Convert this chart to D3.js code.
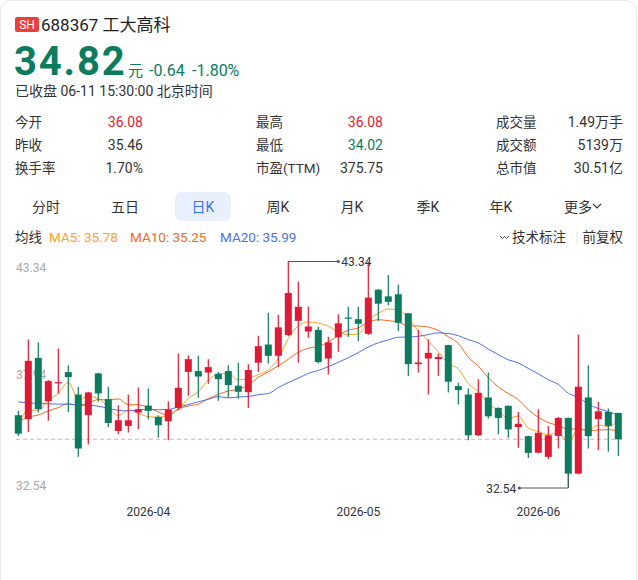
<!DOCTYPE html>
<html>
<head>
<meta charset="utf-8">
<script src="https://cdn.jsdelivr.net/npm/d3@7"></script>
<style>
  body { margin: 0; background: #fff; }
  svg { display: block; font-family: Roboto, "Noto Sans CJK SC", sans-serif; }
</style>
</head>
<body>
<script>
// daily candles 2026-03-13 .. 2026-06-11
var dates = [
  "2026-03-13","2026-03-16","2026-03-17","2026-03-18","2026-03-19","2026-03-20","2026-03-23","2026-03-24","2026-03-25","2026-03-26",
  "2026-03-27","2026-03-30","2026-03-31","2026-04-01","2026-04-02","2026-04-03","2026-04-07","2026-04-08","2026-04-09","2026-04-10",
  "2026-04-13","2026-04-14","2026-04-15","2026-04-16","2026-04-17","2026-04-20","2026-04-21","2026-04-22","2026-04-23","2026-04-24",
  "2026-04-27","2026-04-28","2026-04-29","2026-04-30","2026-05-06","2026-05-07","2026-05-08","2026-05-11","2026-05-12","2026-05-13",
  "2026-05-14","2026-05-15","2026-05-18","2026-05-19","2026-05-20","2026-05-21","2026-05-22","2026-05-25","2026-05-26","2026-05-27",
  "2026-05-28","2026-05-29","2026-06-01","2026-06-02","2026-06-03","2026-06-04","2026-06-05","2026-06-08","2026-06-09","2026-06-10",
  "2026-06-11"];
var opens = [35.97,35.78,38.71,36.64,37.49,38.03,36.96,35.97,37.97,36.74,
  35.22,35.46,36.10,36.43,35.89,35.68,36.32,38.04,38.08,38.01,
  37.95,38.08,37.38,37.07,38.48,39.35,38.81,39.80,40.48,39.97,
  40.05,38.68,39.69,40.64,40.56,39.86,41.97,41.65,41.75,40.84,
  38.41,38.68,38.65,39.32,37.36,36.96,35.01,36.82,36.32,36.42,
  35.40,34.97,34.18,33.98,34.98,35.84,33.18,36.82,35.78,36.13,
  36.08];
var highs = [36.18,39.59,39.45,37.65,39.16,38.36,37.33,37.09,38.00,37.33,
  36.45,36.96,37.30,37.25,35.97,36.64,38.92,38.84,38.81,38.65,
  38.04,38.36,38.48,38.40,39.77,40.87,40.76,43.34,42.35,41.15,
  40.20,39.72,40.79,41.15,41.15,43.30,42.00,42.67,42.22,40.86,
  40.04,39.59,38.92,39.34,37.52,37.25,37.69,38.01,36.34,36.44,
  36.13,34.99,36.26,35.46,35.89,35.86,39.83,38.36,36.61,36.29,
  36.08];
var lows = [34.98,35.17,36.10,35.70,37.01,36.13,33.98,34.57,36.61,35.41,
  35.06,35.14,35.30,35.78,34.89,34.77,36.21,36.90,36.80,37.47,
  36.66,36.80,36.77,36.32,38.04,38.44,38.28,39.75,38.48,39.67,
  38.44,37.92,39.00,39.72,39.51,39.80,40.48,41.23,39.99,37.85,
  38.01,36.96,37.85,37.06,36.48,34.77,34.98,35.81,35.06,34.89,
  34.41,33.93,34.15,33.87,34.38,32.54,33.15,34.38,34.30,34.22,
  34.02];
var closes = [35.09,38.57,36.26,37.60,37.55,37.79,34.38,37.06,37.01,35.60,
  35.73,35.73,36.26,36.18,35.49,36.24,37.28,38.65,37.82,38.27,
  37.69,37.41,37.09,38.13,39.27,38.81,40.17,41.81,41.15,40.21,
  38.51,39.45,40.36,40.60,40.34,41.59,41.30,41.39,40.39,38.41,
  38.49,38.95,38.75,37.57,37.17,35.01,37.04,35.92,35.84,35.29,
  35.56,34.17,35.13,35.01,35.84,33.18,37.33,34.97,36.16,35.46,
  34.82];
// closes of the 19 sessions before the window (estimated, only feed the moving averages)
var prevCloses = [39.57,36.86,37.80,37.95,37.79,35.38,37.06,38.01,37.60,37.73,
  36.20,35.30,35.60,36.00,35.90,34.97,36.26,35.20,35.93];

var maPeriods = [5, 10, 20];
var maColors = ["#f4a52a", "#f06a22", "#4f6fde"];
var maLabels = ["MA5: 35.78", "MA10: 35.25", "MA20: 35.99"];

var yTicks = [43.34, 37.94, 32.54];
var monthTicks = ["2026-04-01", "2026-05-06", "2026-06-01"];
var monthLabels = ["2026-04", "2026-05", "2026-06"];

var statLabels = [["今开", "昨收", "换手率"], ["最高", "最低", "市盈(TTM)"], ["成交量", "成交额", "总市值"]];
var statValues = [["36.08", "35.46", "1.70%"], ["36.08", "34.02", "375.75"], ["1.49万手", "5139万", "30.51亿"]];
var tabs = ["分时", "五日", "日K", "周K", "月K", "季K", "年K", "更多"];

var RED = "#df1a35", GREEN = "#0c7b5e", TXT = "#333";

var W = 638, H = 580;
var svg = d3.select("body").append("svg").attr("width", W).attr("height", H);

svg.append("rect").attr("x", 0.5).attr("y", 0.5).attr("width", 636).attr("height", 620)
  .attr("rx", 10).attr("fill", "#fff").attr("stroke", "#e9e9e9");

// ---- header
svg.append("rect").attr("x", 15).attr("y", 17).attr("width", 24).attr("height", 15).attr("rx", 2).attr("fill", "#e8403f");
svg.append("text").attr("x", 27).attr("y", 29).attr("text-anchor", "middle").attr("fill", "#fff")
  .style("font-size", "12px").text("SH");
svg.append("text").attr("x", 41).attr("y", 30.5).attr("fill", "#222").style("font-size", "17px").text("688367 工大高科");

svg.append("text").attr("x", 14).attr("y", 75).attr("fill", GREEN)
  .style("font-size", "40px").style("font-weight", 700).style("letter-spacing", "1.8px").text("34.82");
svg.append("text").attr("x", 128).attr("y", 76).attr("fill", GREEN).style("font-size", "15px").text("元");
svg.append("text").attr("x", 149).attr("y", 76).attr("fill", GREEN).style("font-size", "16px").text("-0.64");
svg.append("text").attr("x", 192).attr("y", 76).attr("fill", GREEN).style("font-size", "16px").text("-1.80%");
svg.append("text").attr("x", 15).attr("y", 96).attr("fill", TXT).style("font-size", "14px").text("已收盘 06-11 15:30:00 北京时间");

// ---- stats grid
var colLabelX = [15, 256, 496], colValueX = [143, 383, 623], rowY = [126.5, 150, 173];
statLabels.forEach(function (col, ci) {
  col.forEach(function (lab, ri) {
    svg.append("text").attr("x", colLabelX[ci]).attr("y", rowY[ri]).attr("fill", TXT)
      .style("font-size", "13.5px").text(lab);
    var c = TXT;
    if ((ci === 0 && ri === 0) || (ci === 1 && ri === 0)) c = RED;
    if (ci === 1 && ri === 1) c = GREEN;
    svg.append("text").attr("x", colValueX[ci]).attr("y", rowY[ri]).attr("text-anchor", "end").attr("fill", c)
      .style("font-size", "14px").text(statValues[ci][ri]);
  });
});

// ---- period tabs
var tabX = [46, 125, 203, 278, 352, 428, 501, 578];
svg.append("rect").attr("x", 175).attr("y", 192).attr("width", 56).attr("height", 29).attr("rx", 7).attr("fill", "#e8f0fd");
tabs.forEach(function (t, i) {
  svg.append("text").attr("x", tabX[i]).attr("y", 211.5).attr("text-anchor", "middle")
    .attr("fill", i === 2 ? "#3b74e6" : TXT).style("font-size", "14px").text(t);
});
svg.append("path").attr("d", "M593,204 l4,4 l4,-4").attr("fill", "none").attr("stroke", TXT).attr("stroke-width", 1.1);

// ---- MA legend
svg.append("text").attr("x", 15).attr("y", 242).attr("fill", TXT).style("font-size", "13.5px").text("均线");
var legX = [49, 130, 220];
maLabels.forEach(function (l, i) {
  svg.append("text").attr("x", legX[i]).attr("y", 242).attr("fill", maColors[i]).style("font-size", "13.5px").text(l);
});
svg.append("path").attr("d", "M500,236 l2.5,2.5 l2,-2 l2,2 l2.5,-2.5").attr("fill", "none").attr("stroke", "#555").attr("stroke-width", 1);
svg.append("text").attr("x", 512).attr("y", 242).attr("fill", TXT).style("font-size", "13.5px").text("技术标注");
svg.append("line").attr("x1", 577).attr("x2", 577).attr("y1", 231).attr("y2", 244).attr("stroke", "#e3e3e3");
svg.append("text").attr("x", 623).attr("y", 242).attr("text-anchor", "end").attr("fill", TXT).style("font-size", "13.5px").text("前复权");

// ---- chart
var x = d3.scaleBand().domain(dates).range([13.3, 623.3]).paddingInner(0.3).paddingOuter(0.15);
var y = d3.scaleLinear().domain([32.54, 43.34]).range([487, 261]);
var cx = function (d) { return x(d) + x.bandwidth() / 2; };

var g = svg.append("g");

// y labels (under the candles)
g.selectAll(".ylab").data(yTicks).enter().append("text")
  .attr("x", 16)
  .attr("y", function (d, i) { return y(d) + [11, 4.5, 2.5][i]; })
  .attr("fill", "#aaa").style("font-size", "12px")
  .text(function (d) { return d.toFixed(2); });

// last close line
g.append("line").attr("x1", 16).attr("x2", 624).attr("y1", y(closes[closes.length - 1])).attr("y2", y(closes[closes.length - 1]))
  .attr("stroke", "#f2a7a7").attr("stroke-dasharray", "4,3");

// moving averages
var allCloses = prevCloses.concat(closes);
maPeriods.forEach(function (p, k) {
  var pts = closes.map(function (c, i) {
    var j = i + prevCloses.length;
    return [cx(dates[i]), d3.mean(allCloses.slice(j - p + 1, j + 1))];
  });
  g.append("path").datum(pts)
    .attr("d", d3.line().x(function (d) { return d[0]; }).y(function (d) { return y(d[1]); }).curve(d3.curveMonotoneX))
    .attr("fill", "none").attr("stroke", maColors[k]).attr("stroke-width", 1);
});

// candles
var candles = dates.map(function (d, i) {
  return { date: d, o: opens[i], h: highs[i], l: lows[i], c: closes[i] };
});
var cg = g.selectAll(".candle").data(candles).enter().append("g");
cg.append("line")
  .attr("x1", function (d) { return cx(d.date); }).attr("x2", function (d) { return cx(d.date); })
  .attr("y1", function (d) { return y(d.h); }).attr("y2", function (d) { return y(d.l); })
  .attr("stroke", function (d) { return d.c >= d.o ? RED : GREEN; }).attr("stroke-width", 1.2);
cg.append("rect")
  .attr("x", function (d) { return x(d.date); }).attr("width", x.bandwidth())
  .attr("y", function (d) { return y(Math.max(d.o, d.c)); })
  .attr("height", function (d) { return Math.max(1.2, Math.abs(y(d.o) - y(d.c))); })
  .attr("fill", function (d) { return d.c >= d.o ? RED : GREEN; });

// max / min markers
var iMax = d3.maxIndex(highs), iMin = d3.minIndex(lows);
var mx = cx(dates[iMax]), my = y(highs[iMax]);
g.append("path").attr("d", "M" + mx + "," + (my + 0.5) + "H" + (mx + 50)).attr("stroke", "#555").attr("fill", "none");
g.append("circle").attr("cx", mx + 50).attr("cy", my + 0.5).attr("r", 1.6).attr("fill", "#555");
g.append("text").attr("x", mx + 53).attr("y", my + 5).attr("fill", TXT).style("font-size", "12px").text(highs[iMax].toFixed(2));
var nx = cx(dates[iMin]), ny = y(lows[iMin]);
g.append("path").attr("d", "M" + nx + "," + (y(Math.min(opens[iMin], closes[iMin]))) + "V" + (ny + 1) + "H" + (nx - 49))
  .attr("stroke", "#555").attr("fill", "none");
g.append("circle").attr("cx", nx - 49).attr("cy", ny + 1).attr("r", 1.6).attr("fill", "#555");
g.append("text").attr("x", nx - 52).attr("y", ny + 5.5).attr("text-anchor", "end").attr("fill", TXT)
  .style("font-size", "12px").text(lows[iMin].toFixed(2));

// month labels
g.selectAll(".mlab").data(monthTicks).enter().append("text")
  .attr("x", function (d) { return cx(d); }).attr("y", 516)
  .attr("text-anchor", "middle").attr("fill", TXT).style("font-size", "12px")
  .text(function (d, i) { return monthLabels[i]; });
</script>
</body>
</html>
